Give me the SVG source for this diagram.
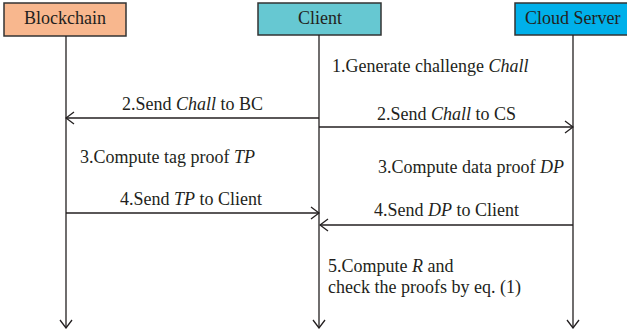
<svg xmlns="http://www.w3.org/2000/svg" width="627" height="334" viewBox="0 0 627 334">
  <style>
    .actor { stroke: #333333; stroke-width: 1.5; }
    .label { font-family: "Liberation Serif", "Times New Roman", serif; font-size: 18px; fill: #231f20; }
    .mid { text-anchor: middle; }
    .line { stroke: #231f20; stroke-width: 1.3; fill: none; }
    .msg { marker-end: url(#head); }
  </style>
  <defs>
    <marker id="head" viewBox="0 0 10 14" refX="9" refY="7" markerWidth="10" markerHeight="14" markerUnits="userSpaceOnUse" orient="auto">
      <path d="M1,1 L9,7 L1,13" fill="none" stroke="#231f20" stroke-width="1.3"/>
    </marker>
  </defs>
  <rect width="627" height="334" fill="#ffffff"/>

  <!-- participants -->
  <g id="blockchain">
    <rect class="actor" x="4" y="3" width="122" height="33" fill="#f8b78e"/>
    <text class="label mid" x="65" y="24">Blockchain</text>
  </g>
  <g id="client">
    <rect class="actor" x="258" y="3" width="123" height="32" fill="#66c8d2"/>
    <text class="label mid" x="320" y="24">Client</text>
  </g>
  <g id="cloud-server">
    <rect class="actor" x="515" y="3" width="120" height="32" fill="#00b0ea"/>
    <text class="label" x="525" y="24">Cloud Server</text>
  </g>

  <!-- lifelines and messages -->
  <g id="connectors">
    <line class="line msg" x1="66" y1="36" x2="66" y2="328"/>
    <line class="line msg" x1="319" y1="35" x2="319" y2="328"/>
    <line class="line msg" x1="573" y1="35" x2="573" y2="328"/>

    <line class="line msg" x1="319" y1="118" x2="66" y2="118"/>
    <line class="line msg" x1="319" y1="127" x2="573" y2="127"/>
    <line class="line msg" x1="66" y1="213" x2="319" y2="213"/>
    <line class="line msg" x1="573" y1="225" x2="320" y2="225"/>
  </g>

  <!-- step labels -->
  <g id="steps">
    <text class="label" x="332" y="72">1.Generate challenge <tspan font-style="italic">Chall</tspan></text>
    <text class="label" x="122" y="110">2.Send <tspan font-style="italic">Chall</tspan> to BC</text>
    <text class="label" x="377" y="120">2.Send <tspan font-style="italic">Chall</tspan> to CS</text>
    <text class="label" x="80" y="163">3.Compute tag proof <tspan font-style="italic">TP</tspan></text>
    <text class="label" x="378" y="173">3.Compute data proof <tspan font-style="italic">DP</tspan></text>
    <text class="label" x="120" y="205">4.Send <tspan font-style="italic">TP</tspan> to Client</text>
    <text class="label" x="374" y="216">4.Send <tspan font-style="italic">DP</tspan> to Client</text>
    <text class="label" x="328" y="272">5.Compute <tspan font-style="italic">R</tspan> and</text>
    <text class="label" x="328" y="293">check the proofs by eq. (1)</text>
  </g>
</svg>
